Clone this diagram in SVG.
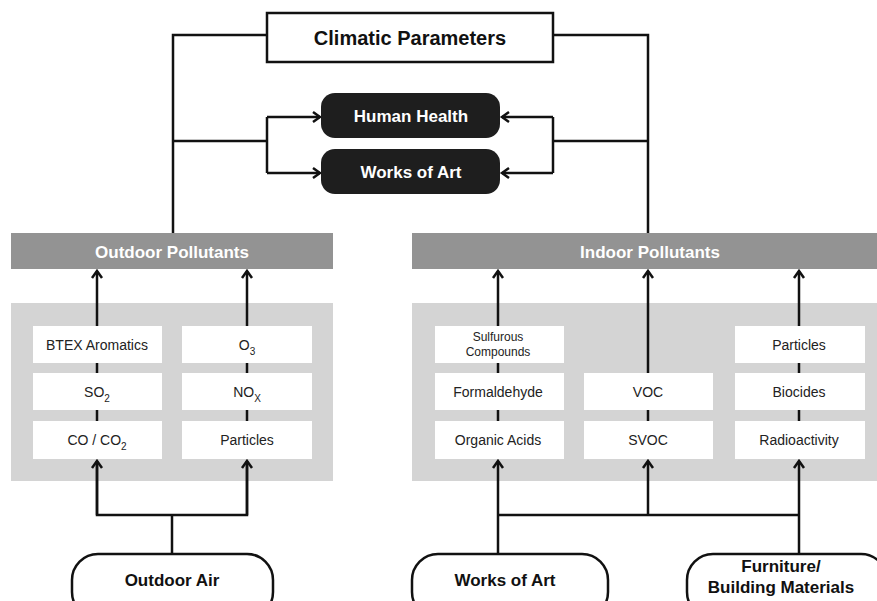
<svg xmlns="http://www.w3.org/2000/svg" width="877" height="601" viewBox="0 0 877 601">
<defs>
<marker id="arr" markerUnits="userSpaceOnUse" markerWidth="20" markerHeight="20" viewBox="-10 -10 20 20" refX="0" refY="0" orient="auto">
<path d="M-7,-5 L0,0 L-7,5" fill="none" stroke="#111" stroke-width="2.5"/>
</marker>
</defs>
<style>
text{font-family:"Liberation Sans",Arial,sans-serif;text-anchor:middle}
.ln{fill:none;stroke:#111;stroke-width:2.5}
.ar{fill:none;stroke:#111;stroke-width:2.5;marker-end:url(#arr)}
.bar{fill:#939393}
.panel{fill:#d4d4d4}
.box{fill:#fff}
.bt{font-size:14px;fill:#222}
.sub{font-size:10px}
.pill{fill:#1e1e1e}
.pt{font-size:17px;font-weight:bold;fill:#fff}
.barT{font-size:17px;font-weight:bold;fill:#fff}
.src{fill:#fff;stroke:#111;stroke-width:2.5}
.st{font-size:17px;font-weight:bold;fill:#111}
</style>
<rect width="877" height="601" fill="#fff"/>

<g id="panels">
<rect class="panel" x="11" y="303" width="322" height="178"/>
<rect class="panel" x="412" y="303" width="465" height="178"/>
</g>

<g id="connectors">
<polyline class="ln" points="267,35 173,35 173,233"/>
<polyline class="ln" points="553,35 648,35 648,233"/>
<line class="ln" x1="173" y1="141" x2="267" y2="141"/>
<line class="ln" x1="267" y1="117" x2="267" y2="173"/>
<line class="ar" x1="267" y1="117" x2="320" y2="117"/>
<line class="ar" x1="267" y1="173" x2="320" y2="173"/>
<line class="ln" x1="553" y1="141" x2="648" y2="141"/>
<line class="ln" x1="553" y1="117" x2="553" y2="173"/>
<line class="ar" x1="553" y1="117" x2="502" y2="117"/>
<line class="ar" x1="553" y1="173" x2="502" y2="173"/>
<line class="ar" x1="97" y1="459" x2="97" y2="271"/>
<line class="ar" x1="247" y1="459" x2="247" y2="271"/>
<line class="ar" x1="498" y1="459" x2="498" y2="271"/>
<line class="ar" x1="648" y1="459" x2="648" y2="271"/>
<line class="ar" x1="799" y1="459" x2="799" y2="271"/>
<polyline class="ln" points="97,461 97,515 247,515 247,461"/>
<line class="ar" x1="97" y1="515" x2="97" y2="461"/>
<line class="ar" x1="247" y1="515" x2="247" y2="461"/>
<line class="ln" x1="172" y1="515" x2="172" y2="554"/>
<line class="ln" x1="498" y1="515" x2="799" y2="515"/>
<line class="ar" x1="498" y1="554" x2="498" y2="461"/>
<line class="ar" x1="648" y1="515" x2="648" y2="461"/>
<line class="ar" x1="799" y1="554" x2="799" y2="461"/>
</g>

<g id="climatic">
<rect x="267" y="13" width="286" height="49" fill="#fff" stroke="#111" stroke-width="2.5"/>
<text x="410" y="45" style="font-size:20px;font-weight:bold;fill:#111">Climatic Parameters</text>
</g>
<g id="human-health">
<rect class="pill" x="321" y="93" width="179" height="45" rx="14"/>
<text class="pt" x="411" y="122">Human Health</text>
</g>
<g id="works-of-art-top">
<rect class="pill" x="321" y="149" width="179" height="45" rx="14"/>
<text class="pt" x="411" y="178">Works of Art</text>
</g>

<g id="outdoor-pollutants">
<rect class="bar" x="11" y="233" width="322" height="36"/>
<text class="barT" x="172" y="258">Outdoor Pollutants</text>
</g>
<g id="indoor-pollutants">
<rect class="bar" x="412" y="233" width="465" height="36"/>
<text class="barT" x="650" y="258">Indoor Pollutants</text>
</g>

<g id="btex"><rect class="box" x="33" y="326" width="129" height="37"/><text class="bt" x="97" y="350">BTEX Aromatics</text></g>
<g id="so2"><rect class="box" x="33" y="373" width="129" height="37"/><text class="bt" x="97" y="397">SO<tspan class="sub" dy="5">2</tspan></text></g>
<g id="co"><rect class="box" x="33" y="421" width="129" height="38"/><text class="bt" x="97" y="445">CO  / CO<tspan class="sub" dy="5">2</tspan></text></g>
<g id="o3"><rect class="box" x="182" y="326" width="130" height="37"/><text class="bt" x="247" y="350">O<tspan class="sub" dy="5">3</tspan></text></g>
<g id="nox"><rect class="box" x="182" y="373" width="130" height="37"/><text class="bt" x="247" y="397">NO<tspan class="sub" dy="5">X</tspan></text></g>
<g id="particles-out"><rect class="box" x="182" y="421" width="130" height="38"/><text class="bt" x="247" y="445">Particles</text></g>

<g id="sulfurous"><rect class="box" x="435" y="326" width="129" height="37"/><text x="498" y="341" style="font-size:12px;fill:#222">Sulfurous</text><text x="498" y="356" style="font-size:12px;fill:#222">Compounds</text></g>
<g id="formaldehyde"><rect class="box" x="435" y="373" width="129" height="37"/><text class="bt" x="498" y="397">Formaldehyde</text></g>
<g id="organic-acids"><rect class="box" x="435" y="421" width="129" height="38"/><text class="bt" x="498" y="445">Organic Acids</text></g>
<g id="voc"><rect class="box" x="584" y="373" width="129" height="37"/><text class="bt" x="648" y="397">VOC</text></g>
<g id="svoc"><rect class="box" x="584" y="421" width="129" height="38"/><text class="bt" x="648" y="445">SVOC</text></g>
<g id="particles-in"><rect class="box" x="735" y="326" width="130" height="37"/><text class="bt" x="799" y="350">Particles</text></g>
<g id="biocides"><rect class="box" x="735" y="373" width="130" height="37"/><text class="bt" x="799" y="397">Biocides</text></g>
<g id="radioactivity"><rect class="box" x="735" y="421" width="130" height="38"/><text class="bt" x="799" y="445">Radioactivity</text></g>

<g id="outdoor-air">
<rect class="src" x="72" y="554" width="201" height="64" rx="26"/>
<text class="st" x="172" y="586">Outdoor Air</text>
</g>
<g id="works-of-art-src">
<rect class="src" x="412" y="554" width="196" height="64" rx="26"/>
<text class="st" x="505" y="586">Works of Art</text>
</g>
<g id="furniture">
<rect class="src" x="687" y="554" width="200" height="64" rx="26"/>
<text class="st" x="781" y="572">Furniture/</text>
<text class="st" x="781" y="593">Building Materials</text>
</g>
</svg>
